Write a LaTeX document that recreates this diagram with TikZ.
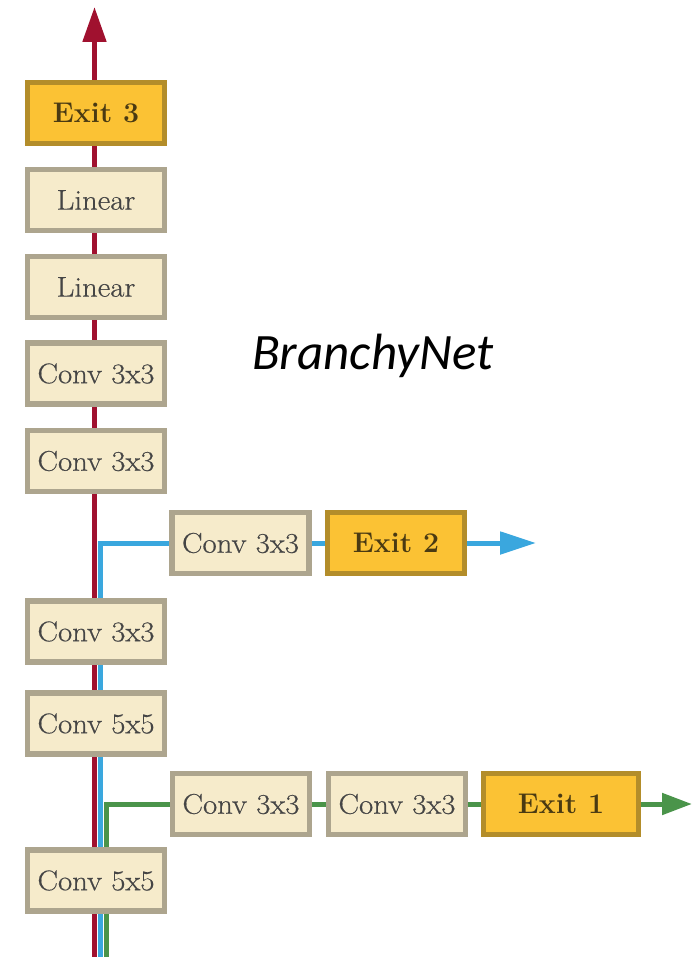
\documentclass[tikz,border=0pt]{standalone}
\usepackage{fontspec}
\newfontfamily\titlefont{Carlito}
\newfontfamily\boxfont{Latin Modern Roman}[FakeBold=0.5,FakeStretch=1.08]
\newfontfamily\exitfont{Latin Modern Roman}
\usetikzlibrary{arrows.meta,backgrounds}

\definecolor{trunkred}{HTML}{A0112F}
\definecolor{branchblue}{HTML}{3AA7DE}
\definecolor{branchgreen}{HTML}{4A944A}
\definecolor{layerfill}{HTML}{F6EBCB}
\definecolor{layerdraw}{HTML}{ADA58E}
\definecolor{exitfill}{HTML}{FBC234}
\definecolor{exitdraw}{HTML}{B38D2A}
\definecolor{layertext}{HTML}{454545}
\definecolor{exittext}{HTML}{4A3A12}

\tikzset{
  layerbox/.style={draw=layerdraw, fill=layerfill, line width=5.5pt,
    minimum width=137pt, minimum height=61pt, inner sep=0pt,
    text=layertext, font=\boxfont\fontsize{28.5}{31}\selectfont},
  exitbox/.style={layerbox, draw=exitdraw, fill=exitfill, text=exittext,
    font=\exitfont\bfseries\fontsize{28.5}{31}\selectfont},
  flow/.style={line width=5pt},
  trunk/.style={flow, draw=trunkred},
  bluepath/.style={flow, draw=branchblue},
  greenpath/.style={flow, draw=branchgreen},
}

\begin{document}
\begin{tikzpicture}[x=1pt,y=-1pt]
\useasboundingbox (0,0) rectangle (692,957);

% main column
\node[exitbox]  (ex3) at (96,113)   {Exit 3};
\node[layerbox] (lin2) at (96,200)  {Linear};
\node[layerbox] (lin1) at (96,287)  {Linear};
\node[layerbox] (cv5) at (96,373.5) {Conv 3x3};
\node[layerbox] (cv4) at (96,461)   {Conv 3x3};
\node[layerbox] (cv3) at (96,631.5) {Conv 3x3};
\node[layerbox] (cv2) at (96,723.5) {Conv 5x5};
\node[layerbox] (cv1) at (96,880.5) {Conv 5x5};

% second branch
\node[layerbox] (bb1) at (240.5,543) {Conv 3x3};
\node[exitbox]  (ex2) at (396,543)   {Exit 2};

% first branch
\node[layerbox] (gb1) at (241,804)  {Conv 3x3};
\node[layerbox] (gb2) at (397,804)  {Conv 3x3};
\node[exitbox, minimum width=155pt] (ex1) at (561,804) {Exit 1};

\node[font=\titlefont\itshape\fontsize{51}{56}\selectfont, anchor=base west,
  inner sep=0pt] (title) at (252,369) {BranchyNet};

% entry and exit points of the three paths
\coordinate (rin)  at (94.5,960);
\coordinate (rtop) at (94.5,7);
\coordinate (bin)  at (100.5,960);
\coordinate (btip) at (536,543);
\coordinate (gin)  at (106.5,960);
\coordinate (gtip) at (692,804);

\begin{scope}[on background layer]
  \draw[trunk, -{Triangle[length=35pt,width=23pt]}] (rin) -- (rtop);
  \draw[bluepath] (bin) |- (bb1.west);
  \draw[bluepath] (bb1.east) -- (ex2.west);
  \draw[bluepath, -{Triangle[length=36pt,width=22pt]}] (ex2.east) -- (btip);
  \draw[greenpath] (gin) |- (gb1.west);
  \draw[greenpath] (gb1.east) -- (gb2.west);
  \draw[greenpath] (gb2.east) -- (ex1.west);
  \draw[greenpath, -{Triangle[length=30pt,width=21pt]}] (ex1.east) -- (gtip);
\end{scope}
\end{tikzpicture}
\end{document}
